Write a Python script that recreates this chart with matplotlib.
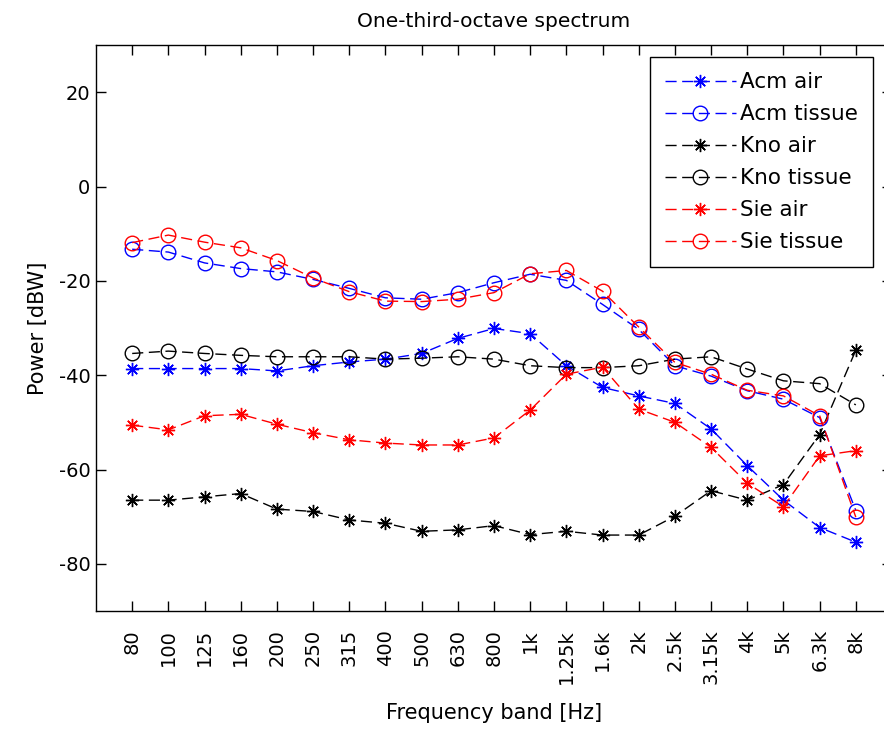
import matplotlib
matplotlib.use("Agg")
import matplotlib.pyplot as plt
import numpy as np

bands = ["80", "100", "125", "160", "200", "250", "315", "400", "500", "630", "800",
         "1k", "1.25k", "1.6k", "2k", "2.5k", "3.15k", "4k", "5k", "6.3k", "8k"]

acm_air = [-38.6, -38.6, -38.6, -38.6, -39.1, -38.0, -37.2, -36.6, -35.4, -32.2, -30.1,
           -31.2, -38.0, -42.6, -44.4, -46.0, -51.4, -59.2, -66.5, -72.3, -75.4]
acm_tissue = [-13.3, -13.9, -16.2, -17.4, -18.1, -19.7, -21.6, -23.6, -23.9, -22.5, -20.4,
              -18.6, -19.9, -25.0, -30.3, -38.0, -40.2, -43.3, -45.1, -49.0, -68.7]
kno_air = [-66.5, -66.5, -65.8, -65.1, -68.4, -68.9, -70.7, -71.4, -73.1, -72.8, -71.9,
           -73.8, -73.1, -73.9, -73.9, -69.9, -64.5, -66.5, -63.2, -52.6, -34.7]
kno_tissue = [-35.4, -34.9, -35.4, -35.8, -36.1, -36.1, -36.1, -36.6, -36.4, -36.1, -36.6,
              -38.0, -38.4, -38.4, -38.0, -36.6, -36.1, -38.7, -41.2, -41.8, -46.3]
sie_air = [-50.6, -51.6, -48.6, -48.3, -50.4, -52.2, -53.7, -54.4, -54.8, -54.8, -53.3,
           -47.4, -39.8, -38.3, -47.2, -50.0, -55.3, -62.9, -67.9, -57.1, -56.0]
sie_tissue = [-11.9, -10.3, -11.8, -13.0, -15.7, -19.4, -22.3, -24.3, -24.4, -23.9, -22.5,
              -18.5, -17.8, -22.2, -29.8, -37.3, -39.8, -43.2, -44.4, -48.6, -70.1]

series = [
    ("Acm air", acm_air, "blue", "star"),
    ("Acm tissue", acm_tissue, "blue", "o"),
    ("Kno air", kno_air, "black", "star"),
    ("Kno tissue", kno_tissue, "black", "o"),
    ("Sie air", sie_air, "red", "star"),
    ("Sie tissue", sie_tissue, "red", "o"),
]

plt.rcParams['font.family'] = ['DejaVu Sans']
plt.rcParams['axes.unicode_minus'] = False

fig = plt.figure(figsize=(8.84, 7.35), dpi=100)
W, H = 884, 735
left, right, top, bottom = 96, 892, 45, 611
ax = fig.add_axes([left / W, 1 - bottom / H, (right - left) / W, (bottom - top) / H])

x = np.arange(1, len(bands) + 1)
for name, vals, col, mk in series:
    if mk == "star":
        ax.plot(x, vals, linestyle=(0, (8, 4)), color=col, lw=1.0, label=name,
                marker=(8, 2, 0), markersize=9.5, markeredgewidth=1.0)
    else:
        ax.plot(x, vals, linestyle=(0, (8, 4)), color=col, lw=1.0, label=name,
                marker="o", markersize=10.5, markerfacecolor="none", markeredgewidth=1.0)

ax.set_xlim(0, 22)
ax.set_ylim(-90, 30)
ax.set_xticks(x)
ax.set_xticklabels(bands, rotation=90, fontsize=14)
ax.set_yticks([-80, -60, -40, -20, 0, 20])
ax.tick_params(axis="y", labelsize=14, pad=4)
ax.tick_params(axis="x", pad=13)
ax.tick_params(direction="in", length=7, width=1, top=True, right=True)
for s in ax.spines.values():
    s.set_linewidth(1.0)

ax.set_title("One-third-octave spectrum", fontsize=14.5, pad=13)
ax.set_xlabel("Frequency band [Hz]", fontsize=15, labelpad=14)
ax.set_ylabel("Power [dBW]", fontsize=15, labelpad=8)

leg = ax.legend(loc="upper right",
                bbox_to_anchor=((873 - left) / (right - left), 1 - (57 - top) / (bottom - top)),
                fontsize=15.5, fancybox=False, framealpha=1, edgecolor="black",
                handlelength=3.3, handletextpad=0.2, labelspacing=0.56,
                borderaxespad=0, borderpad=0.7)
leg.get_frame().set_linewidth(1.0)

fig.savefig("out.png", dpi=100)
